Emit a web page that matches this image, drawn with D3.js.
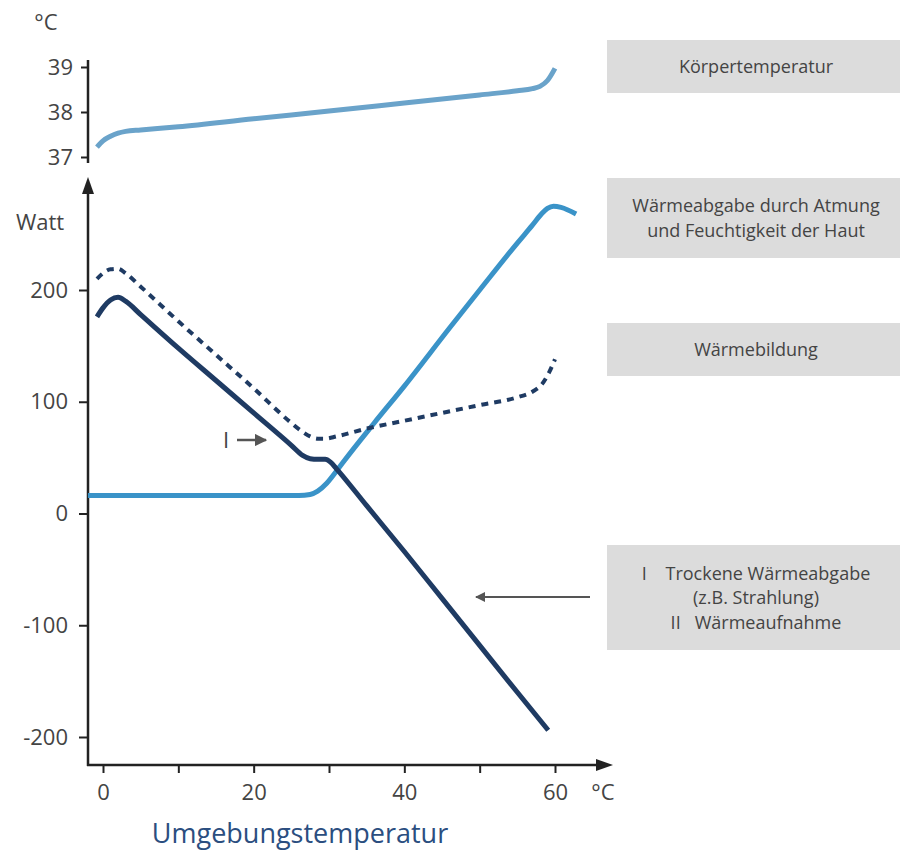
<!DOCTYPE html>
<html>
<head>
<meta charset="utf-8">
<script src="https://cdn.jsdelivr.net/npm/d3@7"></script>
<style>
  body { margin: 0; background: #fff; }
  svg text { font-family: "Open Sans", "Noto Sans", sans-serif; fill: #444; }
</style>
</head>
<body>
<div id="chart"></div>
<script>
// body temperature curve (ambient °C, body °C)
const koerperTemp = [
  [-0.8, 37.22], [0, 37.36], [1, 37.46], [2, 37.53], [3, 37.57], [5, 37.6],
  [10, 37.67], [20, 37.85], [30, 38.02], [40, 38.2], [50, 38.38], [55, 38.47],
  [57, 38.52], [58, 38.57], [59, 38.7], [60, 38.97]
];

// Wärmeabgabe durch Atmung und Feuchtigkeit der Haut (Watt)
const feuchtAbgabe = [
  [-2, 16], [26, 16], [27.5, 17], [28.5, 20], [29.7, 27], [31, 38], [32, 47],
  [36, 81], [40, 114], [46, 166], [50, 200], [55, 242], [57, 258], [58.2, 268],
  [59, 273], [59.8, 275], [60.8, 274], [62.8, 268]
];

// Trockene Wärmeabgabe / Wärmeaufnahme (Watt)
const trockenAbgabe = [
  [-0.8, 176], [0, 184], [1, 191], [2, 193.5], [3, 190], [5, 178], [10, 148],
  [15, 119], [20, 90], [25, 61], [26.5, 52], [27.5, 49], [28.5, 48.5],
  [29.5, 48.5], [30.2, 46], [31, 40], [35, 7], [40, -34], [45, -76],
  [50, -118], [55, -160], [59.1, -194]
];

// Wärmebildung (Watt), dashed
const waermeBildung = [
  [-0.8, 210], [0, 215], [1, 218.5], [2, 219], [3, 215], [5, 203], [10, 172],
  [15, 142], [20, 112], [25, 81], [26.5, 73], [27.5, 69], [28.5, 67],
  [29.5, 67], [31, 69], [35, 76], [40, 83], [45, 90], [50, 97], [55, 104],
  [57, 109], [58.3, 116], [59.2, 126], [60, 138]
];

const xTicks = [0, 10, 20, 30, 40, 50, 60];
const xTickLabels = ["0", "", "20", "", "40", "", "60"];
const yTicks = [200, 100, 0, -100, -200];
const yTopTicks = [39, 38, 37];

const legendItems = [
  { lines: ["Körpertemperatur"], y0: 40, y1: 93 },
  { lines: ["Wärmeabgabe durch Atmung", "und Feuchtigkeit der Haut"], y0: 178, y1: 258 },
  { lines: ["Wärmebildung"], y0: 323, y1: 376 },
  { lines: ["I    Trockene Wärmeabgabe", "(z.B. Strahlung)", "II   Wärmeaufnahme"], y0: 545, y1: 650 }
];

const width = 900, height = 851;
const axisColor = "#222";
const navy = "#1f3b63";
const lightBlue = "#3a93c8";
const topBlue = "#6aa3ca";
const tickFont = 22;

const svg = d3.select("#chart").append("svg")
  .attr("width", width)
  .attr("height", height);

const defs = svg.append("defs");
defs.append("marker")
  .attr("id", "grayHead")
  .attr("viewBox", "0 0 10 10")
  .attr("refX", 9).attr("refY", 5)
  .attr("markerWidth", 5).attr("markerHeight", 5)
  .attr("markerUnits", "strokeWidth")
  .attr("orient", "auto")
  .append("path").attr("d", "M0,0 L10,5 L0,10 Z").attr("fill", "#555");

// scales
const x = d3.scaleLinear().domain([0, 60]).range([103, 555]);
const y = d3.scaleLinear().domain([-200, 200]).range([737, 290]);
const yTop = d3.scaleLinear().domain([37, 39]).range([157, 67]);
const axisX = 88;

// ---- top chart: Körpertemperatur
svg.append("line")
  .attr("x1", axisX).attr("x2", axisX)
  .attr("y1", 60).attr("y2", 163)
  .attr("stroke", axisColor).attr("stroke-width", 2.5);

const topAxis = svg.append("g")
  .attr("transform", `translate(${axisX},0)`)
  .call(d3.axisLeft(yTop).tickValues(yTopTicks).tickSize(7).tickPadding(8)
    .tickFormat(d => String(d)));
topAxis.select(".domain").remove();
topAxis.selectAll("line").attr("stroke", axisColor).attr("stroke-width", 2);
topAxis.selectAll("text").attr("font-size", tickFont).attr("fill", "#444")
  .style("font-family", '"Open Sans", sans-serif');

svg.append("text").attr("x", 46).attr("y", 30)
  .attr("text-anchor", "middle").attr("font-size", tickFont).text("°C");

const lineTop = d3.line()
  .x(d => x(d[0])).y(d => yTop(d[1]))
  .curve(d3.curveMonotoneX);

svg.append("path")
  .datum(koerperTemp)
  .attr("d", lineTop)
  .attr("fill", "none")
  .attr("stroke", topBlue)
  .attr("stroke-width", 5);

// ---- main chart axes
svg.append("line")
  .attr("x1", axisX).attr("x2", axisX)
  .attr("y1", 192).attr("y2", 766)
  .attr("stroke", axisColor).attr("stroke-width", 2.5);
svg.append("path")
  .attr("d", `M${axisX},177 L${axisX - 6},194 L${axisX + 6},194 Z`)
  .attr("fill", axisColor);

svg.append("line")
  .attr("x1", axisX - 1).attr("x2", 598)
  .attr("y1", 765).attr("y2", 765)
  .attr("stroke", axisColor).attr("stroke-width", 2.5);
svg.append("path")
  .attr("d", `M613,765 L596,759 L596,771 Z`)
  .attr("fill", axisColor);

const yAxis = svg.append("g")
  .attr("transform", `translate(${axisX},0)`)
  .call(d3.axisLeft(y).tickValues(yTicks).tickSize(9).tickPadding(11)
    .tickFormat(d => String(d)));
yAxis.select(".domain").remove();
yAxis.selectAll("line").attr("stroke", axisColor).attr("stroke-width", 2);
yAxis.selectAll("text").attr("font-size", tickFont).attr("fill", "#444")
  .style("font-family", '"Open Sans", sans-serif');

const xAxis = svg.append("g")
  .attr("transform", "translate(0,765)")
  .call(d3.axisBottom(x).tickValues(xTicks).tickSize(8).tickPadding(11)
    .tickFormat((d, i) => xTickLabels[i]));
xAxis.select(".domain").remove();
xAxis.selectAll("line").attr("stroke", axisColor).attr("stroke-width", 2);
xAxis.selectAll("text").attr("font-size", tickFont).attr("fill", "#444")
  .style("font-family", '"Open Sans", sans-serif');

svg.append("text").attr("x", 40).attr("y", 230)
  .attr("text-anchor", "middle").attr("font-size", tickFont).text("Watt");
svg.append("text").attr("x", 603).attr("y", 800)
  .attr("text-anchor", "middle").attr("font-size", tickFont).text("°C");
svg.append("text").attr("x", 300).attr("y", 843)
  .attr("text-anchor", "middle").attr("font-size", 27)
  .attr("font-weight", 500)
  .style("fill", "#2b4e80").text("Umgebungstemperatur");

// ---- curves
const line = d3.line()
  .x(d => x(d[0])).y(d => y(d[1]))
  .curve(d3.curveMonotoneX);

svg.append("path")
  .datum(feuchtAbgabe)
  .attr("d", line)
  .attr("fill", "none")
  .attr("stroke", lightBlue)
  .attr("stroke-width", 5);

svg.append("path")
  .datum(waermeBildung)
  .attr("d", line)
  .attr("fill", "none")
  .attr("stroke", navy)
  .attr("stroke-width", 4)
  .attr("stroke-dasharray", "7,6");

svg.append("path")
  .datum(trockenAbgabe)
  .attr("d", line)
  .attr("fill", "none")
  .attr("stroke", navy)
  .attr("stroke-width", 5)
  .attr("stroke-linejoin", "round");

// ---- annotations
svg.append("text").attr("x", 226).attr("y", 448)
  .attr("text-anchor", "middle").attr("font-size", tickFont).text("I");
svg.append("line")
  .attr("x1", 237).attr("x2", 266)
  .attr("y1", 440).attr("y2", 440)
  .attr("stroke", "#555").attr("stroke-width", 2.5)
  .attr("marker-end", "url(#grayHead)");

svg.append("line")
  .attr("x1", 590).attr("x2", 476)
  .attr("y1", 597).attr("y2", 597)
  .attr("stroke", "#555").attr("stroke-width", 2)
  .attr("marker-end", "url(#grayHead)");

// ---- legend boxes
const legend = svg.selectAll(".legend-box")
  .data(legendItems)
  .join("g")
    .attr("class", "legend-box");

legend.append("rect")
  .attr("x", 607)
  .attr("y", d => d.y0)
  .attr("width", width - 607)
  .attr("height", d => d.y1 - d.y0)
  .attr("fill", "#dcdcdc");

legend.each(function(d) {
  const g = d3.select(this);
  const mid = (d.y0 + d.y1) / 2;
  const lh = 24.5;
  const start = mid - (d.lines.length - 1) * lh / 2;
  d.lines.forEach((t, i) => {
    g.append("text")
      .attr("x", 756)
      .attr("y", start + i * lh + 6.5)
      .attr("text-anchor", "middle")
      .attr("font-size", 18)
      .attr("xml:space", "preserve")
      .style("white-space", "pre")
      .text(t);
  });
});
</script>
</body>
</html>
